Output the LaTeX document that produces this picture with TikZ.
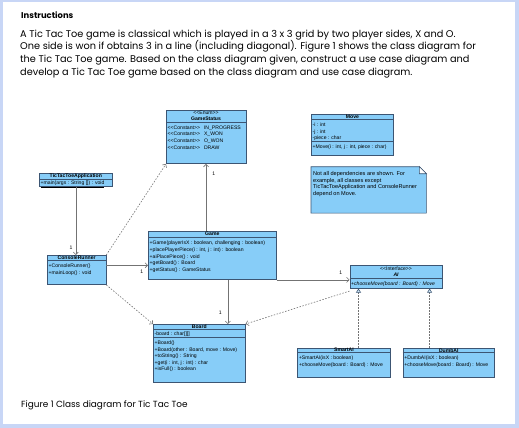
\documentclass[tikz,border=0pt]{standalone}
\usepackage{fontspec}
\setmainfont{Poppins}
\newfontfamily\umlfont{Liberation Sans}
\usetikzlibrary{arrows.meta}

\definecolor{classfill}{RGB}{135,205,248}
\definecolor{classline}{RGB}{60,85,115}
\definecolor{linkgray}{RGB}{115,115,115}
\definecolor{framecol}{RGB}{200,214,246}

\newcommand{\stereo}[1]{\textless\textless#1\textgreater\textgreater}
\newcommand{\umlsize}{\umlfont\fontsize{5.1}{6.6}\selectfont}

\tikzstyle{class} = [draw=classline, fill=classfill, line width=0.6pt,%
                     anchor=north west, inner sep=0pt]
\tikzstyle{cname} = [font=\umlsize\bfseries, inner sep=0pt, align=center]
\tikzstyle{members} = [font=\umlsize, inner sep=0pt, anchor=north west, align=left]
\tikzstyle{sep} = [draw=classline, line width=0.7pt]
\tikzstyle{mult} = [font=\umlsize, inner sep=0pt]
\tikzstyle{assoc} = [draw=linkgray, line width=0.6pt, -{Straight Barb[length=2.5pt,width=5pt]}]
\tikzstyle{depend} = [assoc, dash pattern=on 1.5pt off 1.5pt]
\tikzstyle{realize} = [draw=linkgray, line width=0.6pt, dash pattern=on 1.5pt off 1.5pt,%
                       -{Triangle[length=4pt,width=5pt,fill=classfill!35,color=classline]}]

\begin{document}
\begin{tikzpicture}[x=1pt, y=-1pt]

	\useasboundingbox (0,0) rectangle (519,428);
	\fill[framecol] (0,0) rectangle (519,428);
	\fill[white] (3,2) rectangle (515,424);

	\node (Title) [anchor=west, inner sep=0pt, font=\bfseries\fontsize{8.4}{10}\selectfont] at (21,15.5) {Instructions};
	\node (Intro) [anchor=north west, align=left, inner sep=0pt, font=\fontsize{9.75}{12.8}\selectfont] at (20,29.5)
		{A Tic Tac Toe game is classical which is played in a 3 x 3 grid by two player sides, X and O.\\
		 One side is won if obtains 3 in a line (including diagonal). Figure 1 shows the class diagram for\\
		 the Tic Tac Toe game. Based on the class diagram given, construct a use case diagram and\\
		 develop a Tic Tac Toe game based on the class diagram and use case diagram.};
	\node (Caption) [anchor=west, inner sep=0pt, font=\fontsize{8.9}{10}\selectfont] at (21,405) {Figure 1 Class diagram for Tic Tac Toe};

	% classes
	\node (GameStatus) [class, minimum width=79.5pt, minimum height=53.8pt] at (166,109.5) {};
	\node (GameStatusName) [cname] at ([yshift=-6.3pt]GameStatus.north) {\mdseries\stereo{Enum}\\GameStatus};
	\draw[sep] ([yshift=-13.2pt]GameStatus.north west) -- ([yshift=-13.2pt]GameStatus.north east);
	\node (GameStatusAttr) [members] at ([xshift=1.5pt, yshift=-16pt]GameStatus.north west)
		{\stereo{Constant}\hspace{4pt}IN\_PROGRESS\\\stereo{Constant}\hspace{4pt}X\_WON\\
		 \stereo{Constant}\hspace{4pt}O\_WON\\\stereo{Constant}\hspace{4pt}DRAW};

	\node (Move) [class, minimum width=82.3pt, minimum height=41pt] at (311,114.3) {};
	\node (MoveName) [cname] at ([yshift=-2.7pt]Move.north) {Move};
	\draw[sep] ([yshift=-5.3pt]Move.north west) -- ([yshift=-5.3pt]Move.north east);
	\node (MoveAttr) [members] at ([xshift=1.5pt, yshift=-8.3pt]Move.north west) {-i : int\\-j : int\\-piece : char};
	\draw[sep] ([yshift=-27pt]Move.north west) -- ([yshift=-27pt]Move.north east);
	\node (MoveOps) [members] at ([xshift=1.5pt, yshift=-30pt]Move.north west) {+Move(i : int, j : int, piece : char)};

	\node (MoveNote) [inner sep=0pt, minimum width=115pt, minimum height=46pt, anchor=north west] at (311,166.7) {};
	\filldraw[draw=classline, fill=classfill, line width=0.6pt] (MoveNote.north west) -- ([xshift=-7pt]MoveNote.north east)
		-- ([yshift=-7pt]MoveNote.north east) -- (MoveNote.south east) -- (MoveNote.south west) -- cycle;
	\filldraw[draw=classline, fill=white, line width=0.6pt] ([xshift=-7pt]MoveNote.north east)
		-- ([xshift=-7pt, yshift=-7pt]MoveNote.north east) -- ([yshift=-7pt]MoveNote.north east) -- cycle;
	\node (NoteText) [members, font=\umlfont\fontsize{5.6}{6.4}\selectfont] at ([xshift=2pt, yshift=-5pt]MoveNote.north west)
		{Not all dependencies are shown. For\\example, all classes except\\TicTacToeApplication and ConsoleRunner\\depend on Move.};

	\node (TicTacToeApplication) [class, minimum width=73pt, minimum height=12.7pt] at (39,173.3) {};
	\node (TicTacToeApplicationName) [cname] at ([yshift=-2.8pt]TicTacToeApplication.north) {TicTacToeApplication};
	\draw[sep] ([yshift=-5.6pt]TicTacToeApplication.north west) -- ([yshift=-5.6pt]TicTacToeApplication.north east);
	\node (TicTacToeApplicationOps) [members] at ([xshift=1.5pt, yshift=-7.7pt]TicTacToeApplication.north west)
		{\underline{+main(args : String []) : void}};

	\node (ConsoleRunner) [class, minimum width=58.7pt, minimum height=29.3pt] at (47,255) {};
	\node (ConsoleRunnerName) [cname] at ([yshift=-2.8pt]ConsoleRunner.north) {ConsoleRunner};
	\draw[sep] ([yshift=-5.7pt]ConsoleRunner.north west) -- ([yshift=-5.7pt]ConsoleRunner.north east);
	\node (ConsoleRunnerOps) [members] at ([xshift=1.5pt, yshift=-9pt]ConsoleRunner.north west)
		{+ConsoleRunner()\\+mainLoop() : void};

	\node (Game) [class, minimum width=128pt, minimum height=48.3pt] at (148,231) {};
	\node (GameName) [cname] at ([yshift=-3.2pt]Game.north) {Game};
	\draw[sep] ([yshift=-6.5pt]Game.north west) -- ([yshift=-6.5pt]Game.north east);
	\node (GameOps) [members] at ([xshift=1.5pt, yshift=-10pt]Game.north west)
		{+Game(playerIsX : boolean, challenging : boolean)\\+placePlayerPiece(i : int, j : int) : boolean\\
		 +aiPlacePiece() : void\\+getBoard() : Board\\+getStatus() : GameStatus};

	\node (AI) [class, minimum width=92.5pt, minimum height=23pt] at (349.5,265) {};
	\node (AIName) [cname] at ([yshift=-6.6pt]AI.north) {\mdseries\stereo{Interface}\\\itshape AI};
	\draw[sep] ([yshift=-13.3pt]AI.north west) -- ([yshift=-13.3pt]AI.north east);
	\node (AIOps) [members] at ([xshift=1.5pt, yshift=-16.3pt]AI.north west) {\itshape +chooseMove(board : Board) : Move};

	\node (Board) [class, minimum width=92pt, minimum height=57.7pt] at (153,324) {};
	\node (BoardName) [cname] at ([yshift=-2.7pt]Board.north) {Board};
	\draw[sep] ([yshift=-5.3pt]Board.north west) -- ([yshift=-5.3pt]Board.north east);
	\node (BoardAttr) [members] at ([xshift=1.5pt, yshift=-8pt]Board.north west) {-board : char[][]};
	\draw[sep] ([yshift=-13.3pt]Board.north west) -- ([yshift=-13.3pt]Board.north east);
	\node (BoardOps) [members] at ([xshift=1.5pt, yshift=-16.7pt]Board.north west)
		{+Board()\\+Board(other : Board, move : Move)\\+toString() : String\\+get(i : int, j : int) : char\\+isFull() : boolean};

	\node (SmartAI) [class, minimum width=92.7pt, minimum height=29pt] at (297.3,347.7) {};
	\node (SmartAIName) [cname] at ([yshift=-2.5pt]SmartAI.north) {SmartAI};
	\draw[sep] ([yshift=-5pt]SmartAI.north west) -- ([yshift=-5pt]SmartAI.north east);
	\node (SmartAIOps) [members] at ([xshift=1.5pt, yshift=-8pt]SmartAI.north west)
		{+SmartAI(isX : boolean)\\+chooseMove(board : Board) : Move};

	\node (DumbAI) [class, minimum width=91.6pt, minimum height=29pt] at (402.7,347.7) {};
	\node (DumbAIName) [cname] at ([yshift=-2.5pt]DumbAI.north) {DumbAI};
	\draw[sep] ([yshift=-5pt]DumbAI.north west) -- ([yshift=-5pt]DumbAI.north east);
	\node (DumbAIOps) [members] at ([xshift=1.5pt, yshift=-8pt]DumbAI.north west)
		{+DumbAI(isX : boolean)\\+chooseMove(board : Board) : Move};

	% associations
	\draw[assoc] (TicTacToeApplication.south) -- (TicTacToeApplication.south |- ConsoleRunner.north)
		node (m1) [mult, pos=0.9, left=3pt] {1};
	\coordinate (crOut) at ([yshift=4.7pt]ConsoleRunner.east);
	\draw[assoc] (crOut) -- (crOut -| Game.west) node (m2) [mult, pos=0.85, below=4pt] {1};
	\draw[assoc] (GameStatus.south |- Game.north) -- (GameStatus.south) node (m3) [mult, pos=0.85, right=6pt] {1};
	\draw[assoc] (Game.south east) -- (Game.south east -| AI.west) node (m4) [mult, pos=0.88, above=5pt] {1};
	\coordinate (boardIn) at ([xshift=-17.7pt]Board.north east);
	\draw[assoc] (boardIn |- Game.south) -- (boardIn) node (m5) [mult, pos=0.75, left=6pt] {1};

	% dependencies
	\draw[depend] (ConsoleRunner.north east) -- (GameStatus.south west);
	\draw[depend] (ConsoleRunner.south east) -- (Board.north west);
	\draw[depend] ([yshift=-2.5pt]AI.south west) -- (Board.north east);

	% realizations
	\coordinate (smartTip) at ([xshift=9pt]AI.south west);
	\coordinate (dumbTip) at ([xshift=-13pt]AI.south east);
	\draw[realize] (smartTip |- SmartAI.north) -- (smartTip);
	\draw[realize] (dumbTip |- DumbAI.north) -- (dumbTip);

\end{tikzpicture}
\end{document}
